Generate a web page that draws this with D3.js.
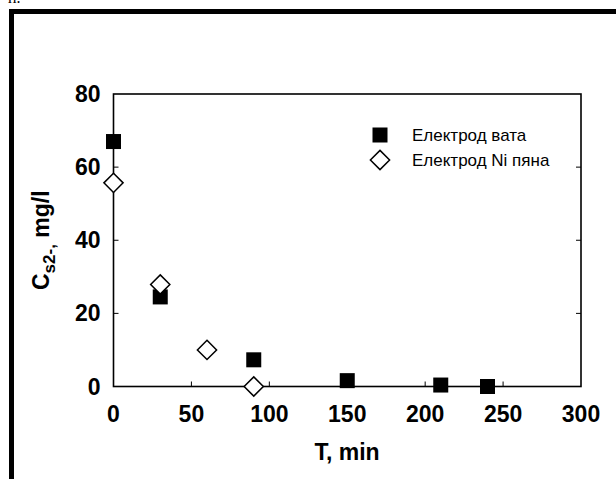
<!DOCTYPE html>
<html>
  <head>
    <meta charset="utf-8">
    <script src="https://d3js.org/d3.v7.min.js"></script>
    <style>
      body { margin: 0; background: #fff; }
      text { font-family: Arial, "Liberation Sans", sans-serif; }
    </style>
  </head>
  <body>
    <svg width="616" height="479"></svg>
    <script>
      // data
      const timeVata = [0, 30, 90, 150, 210, 240];
      const concVata = [67, 24.5, 7.3, 1.6, 0.4, 0];
      const timeNi = [0, 30, 60, 90];
      const concNi = [55.7, 27.9, 10, 0];
      const xTicks = [0, 50, 100, 150, 200, 250, 300];
      const yTicks = [0, 20, 40, 60, 80];
      const seriesNames = ["Електрод вата", "Електрод Ni пяна"];

      const svg = d3.select("svg");
      const margin = {left: 113.5, top: 94, right: 35, bottom: 92.5};
      const width = 616, height = 479;

      const x = d3.scaleLinear().domain([0, 300]).range([margin.left, width - margin.right]);
      const y = d3.scaleLinear().domain([0, 80]).range([height - margin.bottom, margin.top]);

      // page frame (only top and left visible)
      svg.append("path")
        .attr("d", `M11.5,${height}V11.5H${width}`)
        .attr("fill", "none").attr("stroke", "#000").attr("stroke-width", 5);
      svg.append("text").attr("x", 8).attr("y", 3)
        .style("font-family", "'Liberation Serif', serif").style("font-size", "16px")
        .text("п.");

      // inward ticks
      const tickG = svg.append("g").attr("stroke", "#000").attr("stroke-width", 1);
      xTicks.slice(1, -1).forEach(t => {
        tickG.append("line").attr("x1", x(t)).attr("x2", x(t))
          .attr("y1", y(0)).attr("y2", y(0) - 5);
      });
      yTicks.slice(1, -1).forEach(t => {
        tickG.append("line").attr("x1", x(0)).attr("x2", x(0) + 5)
          .attr("y1", y(t)).attr("y2", y(t));
        tickG.append("line").attr("x1", x(300)).attr("x2", x(300) - 5)
          .attr("y1", y(t)).attr("y2", y(t));
      });

      svg.append("rect")
        .attr("x", x(0)).attr("y", y(80))
        .attr("width", x(300) - x(0)).attr("height", y(0) - y(80))
        .attr("fill", "none").attr("stroke", "#000").attr("stroke-width", 1.6);

      // tick labels
      svg.append("g").selectAll("text").data(xTicks).join("text")
        .attr("x", d => x(d)).attr("y", y(0) + 35)
        .attr("text-anchor", "middle")
        .style("font-size", "23px").style("font-weight", "bold")
        .text(d => d);
      svg.append("g").selectAll("text").data(yTicks).join("text")
        .attr("x", x(0) - 13).attr("y", d => y(d) + 8)
        .attr("text-anchor", "end")
        .style("font-size", "23px").style("font-weight", "bold")
        .text(d => d);

      // axis titles
      svg.append("text")
        .attr("x", 347).attr("y", 460)
        .attr("text-anchor", "middle")
        .style("font-size", "23px").style("font-weight", "bold")
        .text("T, min");

      const yt = svg.append("text")
        .attr("transform", `translate(49,${(y(0) + y(80)) / 2}) rotate(-90)`)
        .attr("text-anchor", "middle")
        .style("font-size", "23px").style("font-weight", "bold");
      yt.append("tspan").text("C");
      yt.append("tspan").attr("dy", 6).style("font-size", "17px").text("s2-,");
      yt.append("tspan").attr("dy", -6).text(" mg/l");

      const sq = 15, dm = 9.6;
      const diamond = (cx, cy) => `M${cx},${cy - dm}L${cx + dm},${cy}L${cx},${cy + dm}L${cx - dm},${cy}Z`;

      svg.append("g").selectAll("rect").data(timeVata).join("rect")
        .attr("x", (d, i) => x(d) - sq / 2)
        .attr("y", (d, i) => y(concVata[i]) - sq / 2)
        .attr("width", sq).attr("height", sq).attr("fill", "#000");

      svg.append("g").selectAll("path").data(timeNi).join("path")
        .attr("d", (d, i) => diamond(x(d), y(concNi[i])))
        .attr("fill", "#fff").attr("stroke", "#000").attr("stroke-width", 1.5);

      // legend
      const lx = 380, ly = 135;
      svg.append("rect").attr("x", lx - sq / 2).attr("y", ly - sq / 2)
        .attr("width", sq).attr("height", sq).attr("fill", "#000");
      svg.append("path").attr("d", diamond(lx, ly + 25))
        .attr("fill", "#fff").attr("stroke", "#000").attr("stroke-width", 1.5);
      svg.append("g").selectAll("text").data(seriesNames).join("text")
        .attr("x", 412).attr("y", (d, i) => ly + 6 + i * 25)
        .style("font-size", "17px")
        .text(d => d);
    </script>
  </body>
</html>
